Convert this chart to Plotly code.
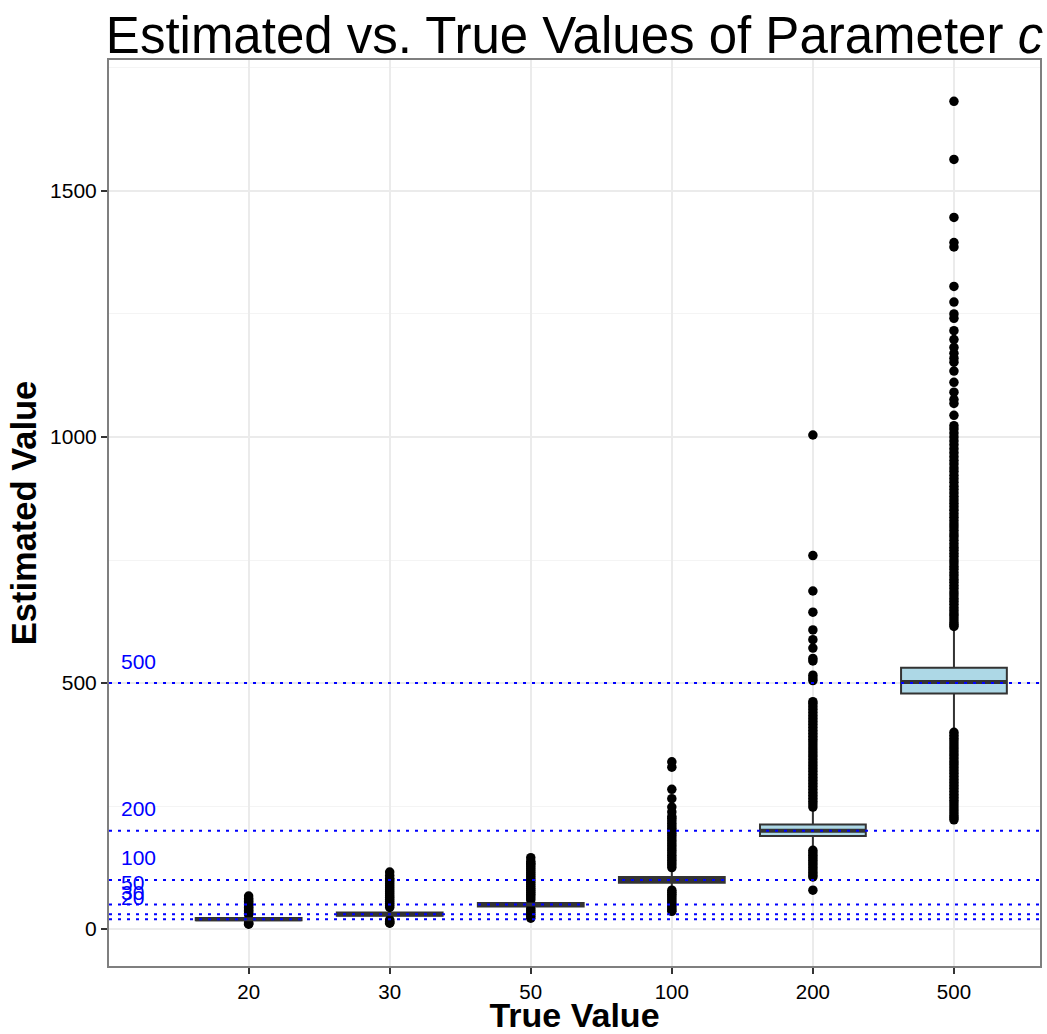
import plotly.graph_objects as go

# ---------------- data ----------------
categories = ["20", "30", "50", "100", "200", "500"]

q1_vals = [18, 27, 46, 94, 189, 478.6]
median_vals = [20, 30, 50, 100, 200, 502]
q3_vals = [22.5, 33.5, 53, 106, 212.5, 531]
lower_fence = [14, 20, 43.5, 81, 163, 402]
upper_fence = [28, 43, 57, 123, 245, 612]

out_20 = [29, 32, 35, 38, 41, 44, 47, 50, 53, 56, 59, 62, 67, 13, 11, 10]
out_30 = [44, 48, 52, 56, 60, 64, 68, 72, 76, 80, 84, 88, 92, 96, 100, 103,
          109, 116, 19, 16, 13, 12]
out_50 = [59, 63, 67, 71, 75, 79, 83, 87, 91, 95, 99, 103, 107, 111, 115, 119,
          123, 127, 131, 134, 138, 145, 42, 38, 34, 30, 26, 22]
out_100 = [125, 130, 135, 140, 145, 150, 155, 160, 165, 170, 175, 180, 185, 190,
           195, 200, 205, 210, 215, 220, 225, 229, 238, 248, 265, 284, 329, 340,
           79, 75, 71, 67, 63, 59, 55, 51, 47, 43, 39, 36]
out_200 = [248, 254, 260, 266, 272, 278, 284, 290, 296, 302, 308, 314, 320, 326,
           332, 338, 344, 350, 356, 362, 368, 374, 380, 386, 392, 398, 404, 410,
           416, 422, 428, 434, 440, 446, 452, 458, 462, 505, 510, 516, 545, 550,
           571, 588, 608, 644, 687, 759, 1004,
           160, 155, 150, 145, 140, 135, 130, 125, 120, 115, 110, 106, 79]
out_500 = [615, 619, 624, 630, 636, 641, 647, 653, 660, 666, 672, 679, 685, 692,
           698, 705, 711, 718, 724, 731, 737, 744, 750, 757, 763, 770, 776, 783,
           790, 797, 803, 810, 817, 823, 830, 837, 844, 851, 858, 865, 872, 879,
           886, 893, 900, 908, 915, 922, 930, 937, 945, 952, 960, 968, 976, 984,
           992, 1000, 1008, 1016, 1023, 1044, 1068, 1076, 1091, 1111, 1134, 1152,
           1160, 1170, 1182, 1198, 1216, 1241, 1250, 1274, 1306, 1386, 1395, 1446,
           1564, 1682,
           400, 394, 388, 382, 376, 370, 364, 358, 352, 346, 340, 334, 328, 322,
           316, 310, 304, 298, 292, 286, 280, 274, 268, 262, 256, 250, 244, 238,
           232, 227, 222]
outliers = [out_20, out_30, out_50, out_100, out_200, out_500]

ref_values = [20, 30, 50, 100, 200, 500]
ytick_vals = [0, 500, 1000, 1500]

# ---------------- styling ----------------
FONT = "Liberation Sans, Arial, Helvetica, sans-serif"
BOX_W = 0.75
LINE_COL = "#333333"

fig = go.Figure()

fig.add_trace(go.Box(
    x=categories, q1=q1_vals, median=median_vals, q3=q3_vals,
    lowerfence=lower_fence, upperfence=upper_fence,
    width=BOX_W, fillcolor="#ADD8E6",
    line=dict(color=LINE_COL, width=2),
    whiskerwidth=0, boxpoints=False, showlegend=False,
))

ox, oy = [], []
for cat, vals in zip(categories, outliers):
    ox.extend([cat] * len(vals))
    oy.extend(vals)
fig.add_trace(go.Scatter(
    x=ox, y=oy, mode="markers",
    marker=dict(color="black", size=9.5, line=dict(width=0)),
    showlegend=False,
))

shapes = []
# thicker median lines (ggplot fatten)
for i, m in enumerate(median_vals):
    shapes.append(dict(type="line", xref="x", yref="y",
                       x0=i - BOX_W / 2, x1=i + BOX_W / 2, y0=m, y1=m,
                       line=dict(color=LINE_COL, width=4), layer="above"))
# reference dotted lines
for v in ref_values:
    shapes.append(dict(type="line", xref="paper", yref="y", x0=0, x1=1,
                       y0=v, y1=v, line=dict(color="blue", width=2, dash="3px,6px"),
                       layer="above"))

annotations = []
for v in ref_values:
    annotations.append(dict(x=-0.92, y=v, xref="x", yref="y", text=str(v),
                            showarrow=False, xanchor="left", yanchor="middle",
                            yshift=22, font=dict(color="blue", size=21, family=FONT)))

fig.update_layout(
    width=1047, height=1034,
    margin=dict(l=109, r=7, t=60, b=68, autoexpand=False),
    paper_bgcolor="white", plot_bgcolor="white",
    font=dict(family=FONT, color="black"),
    title=dict(text="Estimated vs. True Values of Parameter <i>c</i>",
               x=0.5, xref="paper", xanchor="center",
               y=1 - 35 / 1034, yref="container", yanchor="middle",
               font=dict(size=51, family=FONT, color="black")),
    shapes=shapes, annotations=annotations,
    showlegend=False,
)

fig.update_xaxes(
    type="category", categoryorder="array", categoryarray=categories,
    range=[-0.99, 5.61], automargin=False,
    showgrid=True, gridcolor="#EBEBEB", gridwidth=1.5,
    showline=True, linecolor="#7F7F7F", linewidth=2, mirror=True,
    ticks="outside", ticklen=6, tickwidth=2, tickcolor=LINE_COL,
    tickfont=dict(size=20.5, color="black", family=FONT),
    title=dict(text="<b>True Value</b>", standoff=10,
               font=dict(size=34, family=FONT, color="black")),
    zeroline=False,
)
fig.update_yaxes(
    range=[-75, 1766], tickvals=ytick_vals, automargin=False,
    showgrid=True, gridcolor="#EBEBEB", gridwidth=1.5,
    minor=dict(dtick=250, tick0=0, showgrid=True, gridcolor="#F4F4F4", gridwidth=1),
    showline=True, linecolor="#7F7F7F", linewidth=2, mirror=True,
    ticks="outside", ticklen=6, tickwidth=2, tickcolor=LINE_COL,
    tickfont=dict(size=21, color="black", family=FONT),
    title=dict(text="<b>Estimated Value</b>", standoff=3,
               font=dict(size=34.5, family=FONT, color="black")),
    zeroline=False,
)

fig.write_html("out.html")
